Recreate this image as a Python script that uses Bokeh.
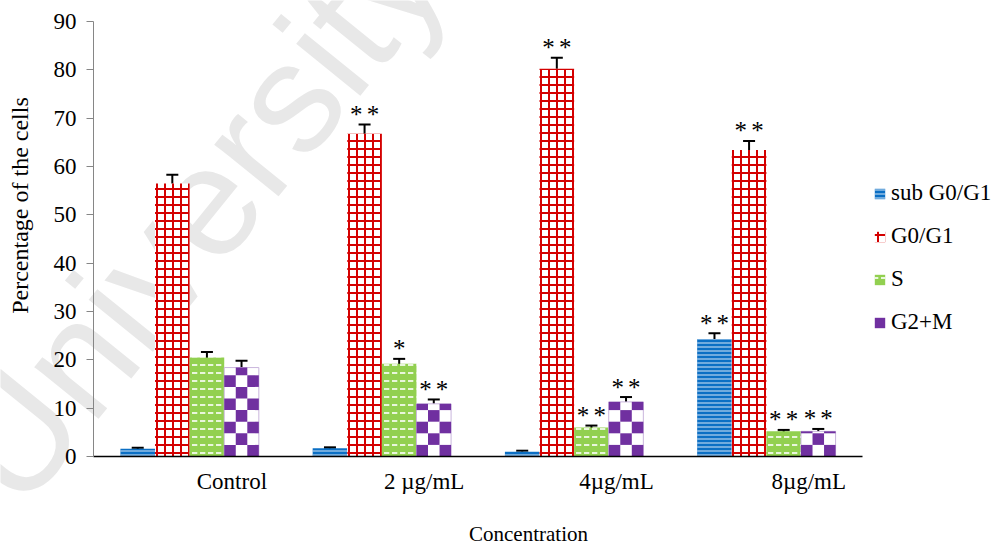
import numpy as np
from bokeh.plotting import figure
from bokeh.models import (ColumnDataSource, Whisker, TeeHead, Legend, LegendItem, Label,
                          FixedTicker, Range1d)
from bokeh.core.properties import value
from bokeh.embed import file_html
from bokeh.resources import INLINE

# ---------------- data ----------------
categories = ["Control", "2 \u00b5g/mL", "4\u00b5g/mL", "8\u00b5g/mL"]
series_names = ["sub G0/G1", "G0/G1", "S", "G2+M"]

sub_g0g1 = [1.6, 1.7, 1.0, 24.3]
g0g1 = [56.5, 66.8, 80.2, 63.4]
s_phase = [20.5, 19.2, 6.0, 5.2]
g2m = [18.4, 10.9, 11.3, 5.2]

sub_err = [0.2, 0.2, 0.2, 1.2]
g0g1_err = [1.8, 1.9, 2.3, 1.9]
s_err = [1.1, 1.0, 0.4, 0.3]
g2m_err = [1.4, 0.9, 1.0, 0.5]

SS = "*\u2006*"
sub_sig = ["", "", "", SS]
g0g1_sig = ["", SS, SS, SS]
s_sig = ["", "*", SS, SS]
g2m_sig = ["", SS, SS, SS]

y_ticks = [0, 10, 20, 30, 40, 50, 60, 70, 80, 90]

# ---------------- layout (pixels) ----------------
W, H = 998, 547
FL, FR, FT, FB = 93, 862, 21, 456          # where the data area sits on the page
NX, YMAX = len(categories), 90
ux = NX / (FR - FL)
uy = YMAX / (FB - FT)
x_range = Range1d(-FL * ux, NX + (W - FR) * ux)
y_range = Range1d(-(H - FB) * uy, YMAX + FT * uy)

SERIF = "Liberation Serif"
PURPLE = "#7030a0"

p = figure(width=W, height=H, x_range=x_range, y_range=y_range, title=None,
           output_backend="svg", toolbar_location=None, min_border=0)
p.outline_line_color = None
p.xgrid.visible = False
p.ygrid.visible = False
p.background_fill_color = "white"
p.border_fill_color = "white"

# watermark
p.add_layout(Label(text="University", x=46, y=12, x_units="screen", y_units="screen",
                   angle=51, angle_units="deg", text_font="Liberation Sans",
                   text_font_size="156px", text_color="#e8e8e8", level="underlay"))

bar_w = 0.18
group_idx = np.arange(NX)
all_vals = [sub_g0g1, g0g1, s_phase, g2m]
all_errs = [sub_err, g0g1_err, s_err, g2m_err]
all_sigs = [sub_sig, g0g1_sig, s_sig, g2m_sig]

styles = [
    dict(fill_color="#0b6fc4", hatch_pattern="horizontal_line", hatch_color="#d6e7f7",
         hatch_scale=4, hatch_weight=1, line_color=None),
    dict(fill_color="white", hatch_pattern="cross", hatch_color="#d40000",
         hatch_scale=8, hatch_weight=2, line_color=None),
    dict(fill_color="#92d050", hatch_pattern="horizontal_dash", hatch_color="white",
         hatch_scale=8, hatch_weight=1.6, line_color=None),
    dict(fill_color="white", line_color="#c9b5dc", line_width=1),
]

items = []
xs = []
for k, (name, vals, st) in enumerate(zip(series_names, all_vals, styles)):
    x = group_idx + 0.5 + (k - 1.5) * bar_w
    xs.append(x)
    r = p.vbar(x=x, top=vals, width=bar_w, **st)
    items.append(r)

# checkerboard squares for the G2+M bars (built from the values)
sq_h = 11.6 * uy          # square height in data units
ncol = 3
cx, cy, cw, ch = [], [], [], []
for xc, v in zip(xs[3], g2m):
    nrow = int(np.ceil(v / sq_h))
    for row in range(nrow):
        y0 = row * sq_h
        y1 = min(v, y0 + sq_h)
        for col in range(ncol):
            if (row + col) % 2 == 1:
                continue
            left = xc - bar_w / 2 + col * bar_w / ncol
            cx.append(left + bar_w / ncol / 2)
            cy.append((y0 + y1) / 2)
            cw.append(bar_w / ncol)
            ch.append(y1 - y0)
checker = p.rect(x=cx, y=cy, width=cw, height=ch, fill_color=PURPLE, line_color=None)
items[3] = checker

# error bars and significance marks
for x, vals, errs, sigs in zip(xs, all_vals, all_errs, all_sigs):
    v = np.array(vals)
    e = np.array(errs)
    src = ColumnDataSource(dict(x=x, upper=v + e, lower=v - e, sig=sigs))
    p.add_layout(Whisker(base="x", upper="upper", lower="lower", source=src,
                         line_color="black", line_width=2,
                         upper_head=TeeHead(size=12, line_width=2, line_color="black"),
                         lower_head=TeeHead(size=12, line_width=2, line_color="black")))
    p.text(x="x", y="upper", text="sig", source=src, text_font=value(SERIF),
           text_font_size="25px", text_align="center", text_baseline="middle",
           y_offset=-10, text_color="black")

legend = Legend(items=[LegendItem(label=n, renderers=[r]) for n, r in zip(series_names, items)],
                location=(873, 212), label_text_font=SERIF,
                label_text_font_size="23px", label_text_color="black",
                glyph_width=13, glyph_height=13, label_standoff=5, label_height=26,
                spacing=17, padding=0, margin=0, border_line_color=None,
                background_fill_alpha=0)
p.add_layout(legend)

# y axis
p.yaxis.fixed_location = 0
p.yaxis.bounds = (0, YMAX)
p.yaxis.ticker = FixedTicker(ticks=y_ticks)
p.yaxis.axis_line_color = "#868686"
p.yaxis.major_tick_line_color = "#868686"
p.yaxis.major_tick_out = 7
p.yaxis.major_tick_in = 0
p.yaxis.minor_tick_line_color = None
p.yaxis.major_label_text_font = SERIF
p.yaxis.major_label_text_font_size = "23px"
p.yaxis.major_label_text_color = "black"
p.yaxis.major_label_standoff = 10

# x axis
label_pos = [float(i) + 0.72 for i in group_idx]
p.xaxis.fixed_location = 0
p.xaxis.bounds = (0, NX)
p.xaxis.ticker = FixedTicker(ticks=label_pos)
p.xaxis.major_label_overrides = {pos: lab for pos, lab in zip(label_pos, categories)}
p.xaxis.axis_line_color = "black"
p.xaxis.axis_line_width = 1.5
p.xaxis.major_tick_line_color = None
p.xaxis.minor_tick_line_color = None
p.xaxis.major_label_text_font = SERIF
p.xaxis.major_label_text_font_size = "23px"
p.xaxis.major_label_text_color = "black"
p.xaxis.major_label_standoff = 6

# axis titles
p.add_layout(Label(text="Percentage of the cells", x=19, y=H - 205, x_units="screen", y_units="screen",
                   angle=90, angle_units="deg", text_align="center", text_baseline="middle",
                   text_font=SERIF, text_font_size="24px", text_color="black"))
p.add_layout(Label(text="Concentration", x=528, y=H - 533, x_units="screen", y_units="screen",
                   text_align="center", text_baseline="middle",
                   text_font=SERIF, text_font_size="21px", text_color="black"))

open("out.html", "w").write(file_html(p, INLINE))
